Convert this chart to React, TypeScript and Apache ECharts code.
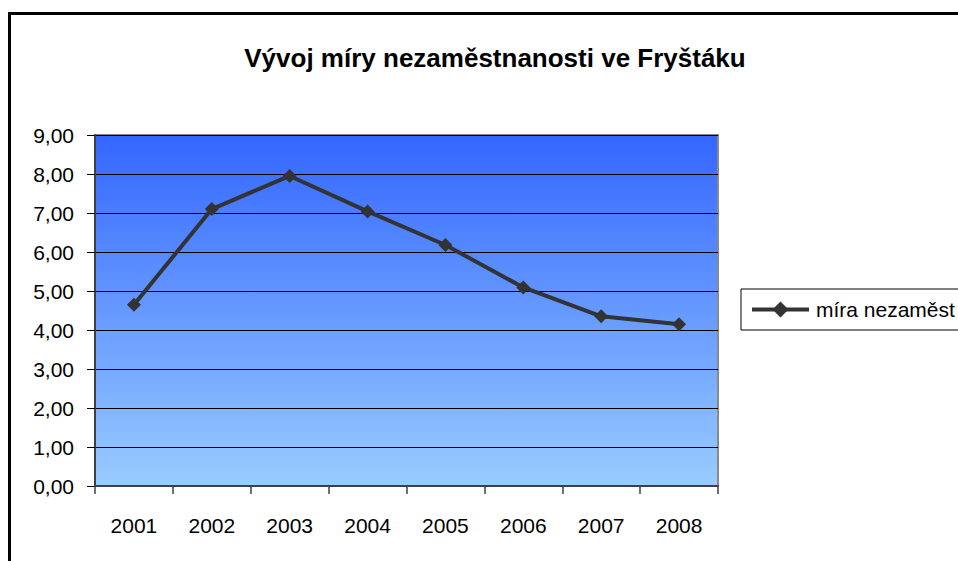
import React, { useEffect, useRef } from "react";
import * as echarts from "echarts";

const years = ["2001", "2002", "2003", "2004", "2005", "2006", "2007", "2008"];
const rates = [4.65, 7.1, 7.95, 7.04, 6.18, 5.09, 4.35, 4.15];
const seriesName = "míra nezaměst";
const titleText = "Vývoj míry nezaměstnanosti ve Fryštáku";
const yMin = 0;
const yMax = 9;
const yStep = 1;

const FONT = "'Liberation Sans', Arial, sans-serif";

export default function App() {
  const ref = useRef<HTMLDivElement>(null);
  useEffect(() => {
    if (!ref.current) return;
    const chart = echarts.init(ref.current, undefined, { renderer: "svg" });
    chart.setOption({
      animation: false,
      backgroundColor: "#ffffff",
      title: {
        text: titleText,
        left: 490,
        top: 40,
        textAlign: "center",
        textStyle: { fontFamily: FONT, fontSize: 26, fontWeight: "bold", color: "#000" },
      },
      graphic: [
        {
          type: "rect",
          shape: { x: 9.5, y: 13.5, width: 1200, height: 800 },
          style: { fill: "none", stroke: "#000", lineWidth: 3 },
          silent: true,
          z: -1,
        },
      ],
      legend: {
        orient: "vertical",
        left: 741,
        top: 289,
        padding: [10, 9, 10, 9],
        itemGap: 0,
        itemWidth: 57,
        itemHeight: 20,
        borderColor: "#000",
        borderWidth: 1,
        lineStyle: { width: 4, color: "#333333" },
        textStyle: { fontFamily: FONT, fontSize: 21, color: "#000", padding: [0, 0, 0, 2] },
        data: [seriesName],
      },
      grid: {
        left: 95,
        top: 135,
        width: 623,
        height: 351,
        show: true,
        borderColor: "#8a8a8a",
        borderWidth: 2,
        backgroundColor: {
          type: "linear",
          x: 0,
          y: 0,
          x2: 0,
          y2: 1,
          colorStops: [
            { offset: 0, color: "#3366ff" },
            { offset: 0.5, color: "#6699ff" },
            { offset: 1, color: "#99ccff" },
          ],
        },
      },
      xAxis: {
        type: "category",
        data: years,
        boundaryGap: true,
        axisLine: { show: true, lineStyle: { color: "#404040", width: 2 } },
        axisTick: { show: true, length: 8, lineStyle: { color: "#404040", width: 1.5 } },
        axisLabel: { fontFamily: FONT, fontSize: 21, color: "#000", margin: 29 },
        splitLine: { show: false },
      },
      yAxis: {
        type: "value",
        min: yMin,
        max: yMax,
        interval: yStep,
        axisLine: { show: true, lineStyle: { color: "#404040", width: 2 } },
        axisTick: { show: true, length: 8, lineStyle: { color: "#000", width: 1 } },
        axisLabel: {
          fontFamily: FONT,
          fontSize: 21,
          color: "#000",
          margin: 21,
          formatter: (v: number) => v.toFixed(2).replace(".", ","),
        },
        splitLine: { show: true, lineStyle: { color: "#000", width: 1 } },
      },
      series: [
        {
          name: seriesName,
          type: "line",
          data: rates,
          symbol: "diamond",
          symbolSize: 14,
          lineStyle: { color: "#333333", width: 4 },
          itemStyle: { color: "#333333" },
        },
      ],
    });
    return () => chart.dispose();
  }, []);
  return (
    <div style={{ position: "fixed", left: 0, top: 0, width: 958, height: 561, overflow: "hidden", background: "#fff" }}>
      <div ref={ref} style={{ width: 1200, height: 700 }} />
    </div>
  );
}
